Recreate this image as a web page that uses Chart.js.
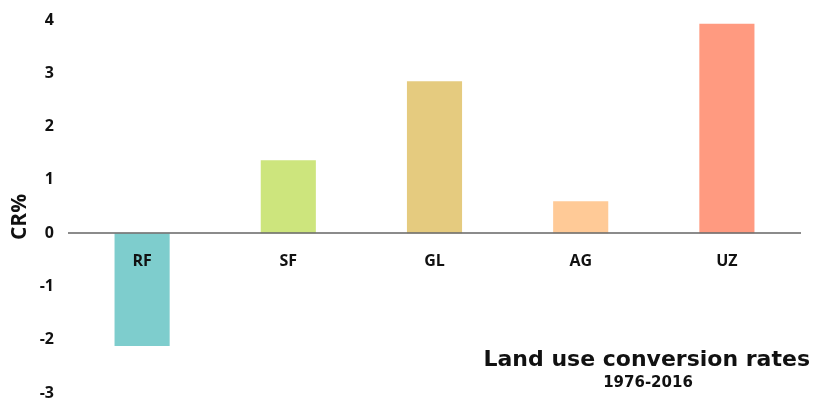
<!DOCTYPE html>
<html>
<head>
<meta charset="utf-8">
<script src="https://cdn.jsdelivr.net/npm/chart.js@4"></script>
<style>
  html, body { margin: 0; padding: 0; background: #fff; }
  #wrap { width: 813px; height: 399px; }
</style>
</head>
<body>
<div id="wrap"><canvas id="cr-chart"></canvas></div>
<script>
// Land use conversion rates, 1976-2016
const categories = ['RF', 'SF', 'GL', 'AG', 'UZ'];
const rates      = [-2.12, 1.37, 2.85, 0.6, 3.93];
const barColors  = ['#7ecdcd', '#cde57d', '#e5cb7f', '#ffca97', '#ff9a80'];
const yMin = -3, yMax = 4;

const titleText    = 'Land use conversion rates';
const subtitleText = '1976-2016';
const yTitleText   = 'CR%';

const textPlugin = {
  id: 'textPlugin',
  afterDraw(chart) {
    const ctx = chart.ctx;
    ctx.save();
    ctx.fillStyle = '#111';
    ctx.textBaseline = 'alphabetic';

    ctx.font = 'bold 22px "DejaVu Sans"';
    ctx.textAlign = 'right';
    ctx.fillText(titleText, 810, 366);

    ctx.font = 'bold 15px "DejaVu Sans"';
    ctx.textAlign = 'center';
    ctx.fillText(subtitleText, 648, 387);

    ctx.translate(20, 217);
    ctx.rotate(-Math.PI / 2);
    ctx.font = 'bold 21px "Open Sans"';
    ctx.textBaseline = 'middle';
    ctx.fillText(yTitleText, 0, 0);
    ctx.restore();
  },
};

new Chart(document.getElementById('cr-chart'), {
  type: 'bar',
  data: {
    labels: categories,
    datasets: [{
      data:            rates,
      backgroundColor: barColors,
      borderWidth:     0,
      barPercentage:      0.377,
      categoryPercentage: 1,
    }],
  },
  options: {
    responsive:          true,
    maintainAspectRatio: false,
    animation:           false,
    layout: { padding: { left: 0, right: 13, top: 20, bottom: 6 } },
    plugins: {
      legend:  { display: false },
      tooltip: { enabled: false },
    },
    scales: {
      x: {
        position: { y: 0 },
        grid:   { display: false, drawTicks: false },
        border: { display: true, color: 'rgba(110,110,110,0.8)', width: 2, z: 1 },
        ticks:  {
          z: 1,
          color: '#111',
          padding: 19,
          font: { family: 'Open Sans', size: 16, weight: 'bold' },
        },
      },
      y: {
        min: yMin,
        max: yMax,
        grid:   { display: false, drawTicks: false },
        border: { display: false },
        ticks:  {
          stepSize: 1,
          color: '#111',
          padding: 15,
          font: { family: 'Open Sans', size: 16, weight: 'bold' },
        },
        afterFit(scale) {
          scale.width = 69;
          scale.paddingTop = 0;
          scale.paddingBottom = 0;
        },
      },
    },
  },
  plugins: [textPlugin],
});
</script>
</body>
</html>
